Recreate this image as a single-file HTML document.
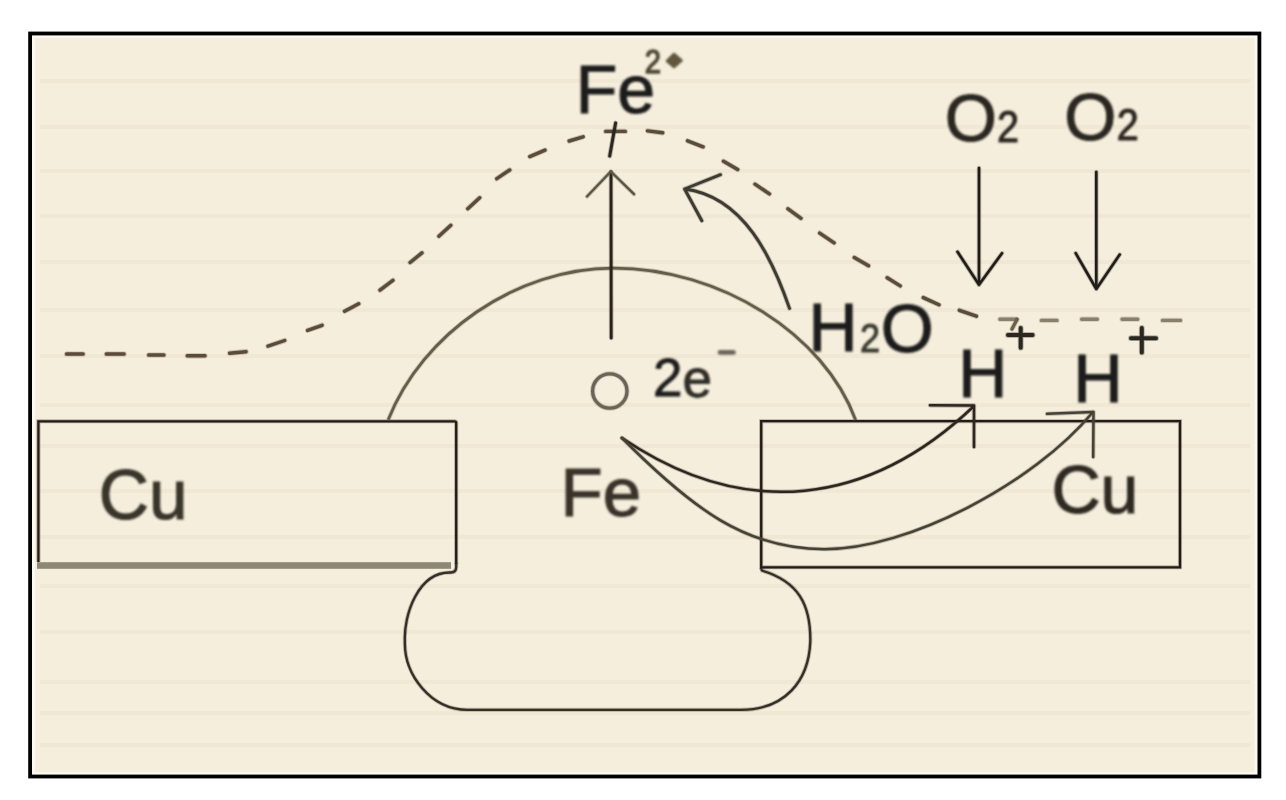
<!DOCTYPE html>
<html><head><meta charset="utf-8"><title>Galvanic corrosion diagram</title>
<style>
html,body{margin:0;padding:0;background:#fff;}
body{width:1286px;height:800px;overflow:hidden;}
svg{display:block;}
text{font-family:"Liberation Sans",sans-serif;}
</style></head><body>
<svg width="1286" height="800" viewBox="0 0 1286 800">
<defs><filter id="bl" filterUnits="userSpaceOnUse" x="0" y="0" width="1286" height="800"><feGaussianBlur stdDeviation="0.70"/></filter><filter id="bt" filterUnits="userSpaceOnUse" x="0" y="0" width="1286" height="800"><feGaussianBlur stdDeviation="1.0"/></filter></defs>
<rect x="32" y="35.5" width="1225.5" height="739.2" fill="#fbf8ef"/>
<rect x="35" y="38" width="1219.5" height="734" fill="#f5eedc"/>
<rect x="30.1" y="33.5" width="1229.3" height="743" fill="none" stroke="#000" stroke-width="3.8"/>
<g>
<rect x="40" y="79.0" width="1210" height="4" fill="#e6dbc4" opacity="0.32"/>
<rect x="40" y="125.0" width="1210" height="4" fill="#e6dbc4" opacity="0.32"/>
<rect x="40" y="169.0" width="1210" height="4" fill="#e6dbc4" opacity="0.32"/>
<rect x="40" y="214.0" width="1210" height="4" fill="#e6dbc4" opacity="0.32"/>
<rect x="40" y="260.0" width="1210" height="4" fill="#e6dbc4" opacity="0.32"/>
<rect x="40" y="308.0" width="1210" height="4" fill="#e6dbc4" opacity="0.32"/>
<rect x="40" y="354.0" width="1210" height="4" fill="#e6dbc4" opacity="0.32"/>
<rect x="40" y="403.0" width="1210" height="4" fill="#e6dbc4" opacity="0.32"/>
<rect x="40" y="444.0" width="1210" height="4" fill="#e6dbc4" opacity="0.32"/>
<rect x="40" y="489.0" width="1210" height="4" fill="#e6dbc4" opacity="0.32"/>
<rect x="40" y="535.0" width="1210" height="4" fill="#e6dbc4" opacity="0.32"/>
<rect x="40" y="584.0" width="1210" height="4" fill="#e6dbc4" opacity="0.32"/>
<rect x="40" y="630.0" width="1210" height="4" fill="#e6dbc4" opacity="0.32"/>
<rect x="40" y="680.0" width="1210" height="4" fill="#e6dbc4" opacity="0.32"/>
<rect x="40" y="711.0" width="1210" height="4" fill="#e6dbc4" opacity="0.32"/>
<rect x="40" y="743.0" width="1210" height="4" fill="#e6dbc4" opacity="0.32"/>
<path d="M66.6 354.0 L83.1 354.0 M106.4 354.0 L124.1 354.0 M148.7 355.0 L163.9 355.0 M187.3 355.8 L205.0 355.8 M229.6 353.2 L246.1 351.7 M268.0 346.1 L284.7 340.5 M307.6 330.4 L322.1 325.3 M344.6 311.3 L358.7 303.8 M380.0 290.1 L392.9 280.3 M410.1 262.5 L421.9 252.9 M438.9 236.2 L450.8 225.3 M467.8 208.7 L479.7 197.7 M496.8 178.7 L509.7 170.0 M529.8 156.6 L545.0 150.1 M569.2 141.0 L583.1 136.8 M605.7 131.4 L625.3 131.4 M647.5 130.9 L662.7 132.8 M687.6 140.8 L703.1 146.8 M723.5 161.2 L737.7 169.5 M755.0 184.2 L769.4 193.9 M788.0 208.8 L801.0 218.3 M819.7 233.1 L834.1 242.8 M854.3 257.5 L868.5 265.8 M887.2 277.7 L900.2 285.9 M923.3 297.6 L939.0 304.8 M959.4 310.3 L976.4 316.2 " stroke="#5a4b3a" stroke-width="5.2" opacity="0.3" stroke-linecap="round" fill="none"/>
<path d="M66.6 354.0 L83.1 354.0 M106.4 354.0 L124.1 354.0 M148.7 355.0 L163.9 355.0 M187.3 355.8 L205.0 355.8 M229.6 353.2 L246.1 351.7 M268.0 346.1 L284.7 340.5 M307.6 330.4 L322.1 325.3 M344.6 311.3 L358.7 303.8 M380.0 290.1 L392.9 280.3 M410.1 262.5 L421.9 252.9 M438.9 236.2 L450.8 225.3 M467.8 208.7 L479.7 197.7 M496.8 178.7 L509.7 170.0 M529.8 156.6 L545.0 150.1 M569.2 141.0 L583.1 136.8 M605.7 131.4 L625.3 131.4 M647.5 130.9 L662.7 132.8 M687.6 140.8 L703.1 146.8 M723.5 161.2 L737.7 169.5 M755.0 184.2 L769.4 193.9 M788.0 208.8 L801.0 218.3 M819.7 233.1 L834.1 242.8 M854.3 257.5 L868.5 265.8 M887.2 277.7 L900.2 285.9 M923.3 297.6 L939.0 304.8 M959.4 310.3 L976.4 316.2 " stroke="#5a4b3a" stroke-width="3.4" stroke-linecap="round" fill="none"/>
<path d="M999.9 319.2 L1016.6 319.2 M1041.4 320.4 L1057.0 320.4 M1081.7 319.2 L1097.3 319.2 M1122.1 319.2 L1137.7 319.2 M1162.5 320.4 L1180.5 320.4 " stroke="#8a7f6c" stroke-width="5.2" opacity="0.3" stroke-linecap="round" fill="none"/>
<path d="M999.9 319.2 L1016.6 319.2 M1041.4 320.4 L1057.0 320.4 M1081.7 319.2 L1097.3 319.2 M1122.1 319.2 L1137.7 319.2 M1162.5 320.4 L1180.5 320.4 " stroke="#8a7f6c" stroke-width="3.4" stroke-linecap="round" fill="none"/>
<path d="M615.6 123 L609.7 156" stroke="#2a2620" stroke-width="4.8" opacity="0.3" stroke-linecap="round" fill="none"/>
<path d="M615.6 123 L609.7 156" stroke="#2a2620" stroke-width="3" stroke-linecap="round" fill="none"/>
<path d="M38.4 562 L38.4 421.3 L454.5 421.3 Q456.2 421.3 456.2 423 L456.2 564" fill="none" stroke="#231c16" stroke-width="4.1" opacity="0.3"/>
<path d="M38.4 562 L38.4 421.3 L454.5 421.3 Q456.2 421.3 456.2 423 L456.2 564" fill="none" stroke="#231c16" stroke-width="2.3"/>
<rect x="37" y="562.2" width="414" height="6.6" fill="#8c8876"/>
<path d="M761.2 569 L761.2 421.2 L1180 421.2 L1180 567.3 L761.2 567.3" fill="none" stroke="#231c16" stroke-width="4.1" opacity="0.3"/>
<path d="M761.2 569 L761.2 421.2 L1180 421.2 L1180 567.3 L761.2 567.3" fill="none" stroke="#231c16" stroke-width="2.3"/>
<path d="M388.2 419.8 C422.2 334.0 515.7 268.1 613.5 268.1 C720.4 268.1 824.1 334.1 855.6 420" fill="none" stroke="#645d4a" stroke-width="4.6" opacity="0.3"/>
<path d="M388.2 419.8 C422.2 334.0 515.7 268.1 613.5 268.1 C720.4 268.1 824.1 334.1 855.6 420" fill="none" stroke="#645d4a" stroke-width="2.8"/>
<path d="M456.2 563 L456.2 567 Q456.2 572.5 450.7 572.5 C417.9 571.7 403.5 615.4 404.9 641.6 C404.0 675.0 431.2 709.8 467.2 709.8 L741.2 709.8 C784.6 709.8 808.7 681.4 810.3 641.6 C810.8 604.4 798.5 581.6 761.9 570.5 L761.2 568" fill="none" stroke="#342e26" stroke-width="4.1" opacity="0.3" stroke-linejoin="round"/>
<path d="M456.2 563 L456.2 567 Q456.2 572.5 450.7 572.5 C417.9 571.7 403.5 615.4 404.9 641.6 C404.0 675.0 431.2 709.8 467.2 709.8 L741.2 709.8 C784.6 709.8 808.7 681.4 810.3 641.6 C810.8 604.4 798.5 581.6 761.9 570.5 L761.2 568" fill="none" stroke="#342e26" stroke-width="2.3" stroke-linejoin="round"/>
<path d="M611.2 338 L611 172" fill="none" stroke="#2a221a" stroke-width="4.6" opacity="0.3" stroke-linecap="round"/>
<path d="M611.2 338 L611 172" fill="none" stroke="#2a221a" stroke-width="2.8" stroke-linecap="round"/>
<path d="M587 196.5 L610.8 171.5 L634 194.2" fill="none" stroke="#5a5546" stroke-width="4.2" opacity="0.3" stroke-linecap="round" stroke-linejoin="round"/>
<path d="M587 196.5 L610.8 171.5 L634 194.2" fill="none" stroke="#5a5546" stroke-width="2.4" stroke-linecap="round" stroke-linejoin="round"/>
<path d="M789.5 308.4 C772.4 258.8 744.0 196.5 684.6 189.0 M720.5 174.7 L684.6 189 L701.8 220.7" fill="none" stroke="#3d3a31" stroke-width="4.7" opacity="0.3" stroke-linecap="round" stroke-linejoin="round"/>
<path d="M789.5 308.4 C772.4 258.8 744.0 196.5 684.6 189.0 M720.5 174.7 L684.6 189 L701.8 220.7" fill="none" stroke="#3d3a31" stroke-width="2.9" stroke-linecap="round" stroke-linejoin="round"/>
<path d="M979 168 L979 284.8 M957.5 251.8 L979 284.8 L1002 253.2 M1096.3 172 L1096.3 289 M1075.7 253.2 L1096.3 289 L1119.7 254.6" fill="none" stroke="#221c18" stroke-width="4.4" opacity="0.3" stroke-linecap="round" stroke-linejoin="round"/>
<path d="M979 168 L979 284.8 M957.5 251.8 L979 284.8 L1002 253.2 M1096.3 172 L1096.3 289 M1075.7 253.2 L1096.3 289 L1119.7 254.6" fill="none" stroke="#221c18" stroke-width="2.6" stroke-linecap="round" stroke-linejoin="round"/>
<path d="M622.0 438.0 C744.9 521.3 869.5 505.8 974.0 406.0 M930 405.3 L974 405.5 L974 447" fill="none" stroke="#2d261e" stroke-width="4.3" opacity="0.3" stroke-linecap="round" stroke-linejoin="round"/>
<path d="M622.0 438.0 C744.9 521.3 869.5 505.8 974.0 406.0 M930 405.3 L974 405.5 L974 447" fill="none" stroke="#2d261e" stroke-width="2.5" stroke-linecap="round" stroke-linejoin="round"/>
<path d="M622.0 438.0 C692.8 509.3 746.3 549.2 824.5 549.2 C908.2 549.2 1033.2 484.0 1093.0 412.0 M1047 413.8 L1093.5 412 L1093.2 457" fill="none" stroke="#454135" stroke-width="4.3" opacity="0.3" stroke-linecap="round" stroke-linejoin="round"/>
<path d="M622.0 438.0 C692.8 509.3 746.3 549.2 824.5 549.2 C908.2 549.2 1033.2 484.0 1093.0 412.0 M1047 413.8 L1093.5 412 L1093.2 457" fill="none" stroke="#454135" stroke-width="2.5" stroke-linecap="round" stroke-linejoin="round"/>
<path d="M1008 335 L1032.6 335 M1020.7 328 L1020.7 347.7 M1131 338.2 L1156 338.2 M1141.8 328 L1141.8 352.4" fill="none" stroke="#2a2620" stroke-width="5.8" opacity="0.3" stroke-linecap="round"/>
<path d="M1008 335 L1032.6 335 M1020.7 328 L1020.7 347.7 M1131 338.2 L1156 338.2 M1141.8 328 L1141.8 352.4" fill="none" stroke="#2a2620" stroke-width="4.0" stroke-linecap="round"/>
<path d="M1017 319.5 L1012 329" stroke="#6a5e4c" stroke-width="5.0" opacity="0.3" stroke-linecap="round" fill="none"/>
<path d="M1017 319.5 L1012 329" stroke="#6a5e4c" stroke-width="3.2" stroke-linecap="round" fill="none"/>
<circle cx="609.8" cy="391" r="17.2" fill="none" stroke="#6b6356" stroke-width="5.1" opacity="0.3"/>
<circle cx="609.8" cy="391" r="17.2" fill="none" stroke="#6b6356" stroke-width="3.3"/>
</g>
<g filter="url(#bt)">
<text x="575.7" y="113.0" font-size="68.0" fill="#1c1c1c" stroke="#1c1c1c" stroke-width="1.09">Fe</text>
<text transform="translate(644.8 73.2) scale(0.860 1)" font-size="34.0" fill="#4f4636" stroke="#4f4636" stroke-width="1.40">2</text>
<text x="560.6" y="516.0" font-size="69.0" fill="#3a3329" stroke="#3a3329" stroke-width="1.10">Fe</text>
<text x="98.7" y="519.3" font-size="69.5" fill="#38342a" stroke="#38342a" stroke-width="1.11">Cu</text>
<text x="1051.5" y="512.9" font-size="68.0" fill="#2e2a22" stroke="#2e2a22" stroke-width="1.09">Cu</text>
<text x="808.4" y="351.0" font-size="68.0" fill="#1c1c1c" stroke="#1c1c1c" stroke-width="1.09">H</text>
<text transform="translate(860.0 351.6) scale(0.880 1)" font-size="41.0" fill="#3a3a30" stroke="#3a3a30" stroke-width="1.00">2</text>
<text x="880.8" y="352.3" font-size="68.0" fill="#1c1c1c" stroke="#1c1c1c" stroke-width="1.09">O</text>
<text x="944.7" y="141.2" font-size="67.0" fill="#2a2620" stroke="#2a2620" stroke-width="1.07">O</text>
<text transform="translate(997.0 141.7) scale(0.900 1)" font-size="44.0" fill="#2a2620" stroke="#2a2620" stroke-width="1.00">2</text>
<text x="1064.3" y="139.8" font-size="67.0" fill="#2a2620" stroke="#2a2620" stroke-width="1.07">O</text>
<text transform="translate(1116.7 140.4) scale(0.900 1)" font-size="44.0" fill="#2a2620" stroke="#2a2620" stroke-width="1.00">2</text>
<text x="958.3" y="396.8" font-size="68.0" fill="#1c1c1c" stroke="#1c1c1c" stroke-width="1.09">H</text>
<text x="1073.3" y="402.3" font-size="68.5" fill="#1c1c1c" stroke="#1c1c1c" stroke-width="1.10">H</text>
<text x="652.9" y="395.8" font-size="53.0" fill="#1c1c1c" stroke="#1c1c1c" stroke-width="0.85">2</text>
<text x="682.4" y="396.5" font-size="53.0" fill="#2e2e28" stroke="#2e2e28" stroke-width="0.85">e</text>
<path d="M720 352.4 L733.5 352.4" stroke="#6a6458" stroke-width="4.6" stroke-linecap="round"/>
<path d="M667 61 L674 54 L681.5 60.5 L674 67 Z" fill="#62573f" stroke="#62573f" stroke-width="2.6" stroke-linejoin="round"/>
</g>
</svg>
</body></html>
